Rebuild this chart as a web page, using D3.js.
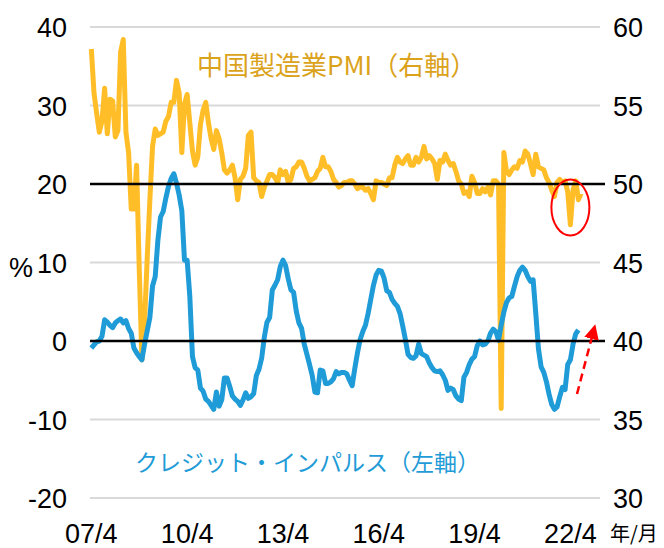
<!DOCTYPE html>
<html>
<head>
<meta charset="utf-8">
<script src="https://cdn.jsdelivr.net/npm/d3@7"></script>
<style>
  body { margin: 0; background: #fff; }
  svg { display: block; }
  .num { font-family: "Liberation Sans", Arial, sans-serif; font-size: 27px; fill: #000; }
  .jp { font-family: "Noto Sans CJK JP", sans-serif; }
</style>
</head>
<body>
<svg width="664" height="548"></svg>
<script>
// monthly data, first month 2007/4
var startYear = 2007, startMonth = 4;
var xTickLabels = ["07/4", "10/4", "13/4", "16/4", "19/4", "22/4"];
var leftTicks = [-20, -10, 0, 10, 20, 30, 40];
var rightTicks = [30, 35, 40, 45, 50, 55, 60];

// 中国製造業PMI (right axis), 2007/4 - 2022/8
var pmi = [
  58.6, 55.8, 54.5, 53.3, 54.0, 56.1, 53.2, 55.4, 55.3,
  53.0, 53.4, 58.4, 59.2, 53.3, 52.0, 48.4, 48.4, 51.2, 44.6, 38.8, 41.2,
  45.3, 49.0, 52.4, 53.5, 53.1, 53.2, 53.3, 54.0, 54.3, 55.2, 55.2, 56.6,
  55.8, 52.0, 55.1, 55.7, 53.9, 52.1, 51.2, 51.7, 53.8, 54.7, 55.2, 53.9,
  52.9, 52.2, 53.4, 52.9, 52.0, 50.9, 50.7, 50.9, 51.2, 50.4, 49.0, 50.3,
  50.5, 51.0, 53.1, 53.3, 50.4, 50.2, 50.1, 49.2, 49.8, 50.2, 50.6, 50.6,
  50.4, 50.1, 50.9, 50.6, 50.8, 50.1, 50.3, 51.0, 51.1, 51.4, 51.4, 51.0,
  50.5, 50.2, 50.3, 50.4, 50.8, 51.0, 51.7, 51.1, 51.1, 50.8, 50.3, 50.1,
  49.8, 49.9, 50.1, 50.1, 50.2, 50.2, 50.0, 49.7, 49.8, 49.8, 49.6, 49.7,
  49.4, 49.0, 50.2, 50.1, 50.1, 50.0, 49.9, 50.4, 50.4, 51.2, 51.7, 51.4,
  51.3, 51.6, 51.8, 51.2, 51.2, 51.7, 51.4, 51.7, 52.4, 51.6, 51.8, 51.6,
  51.3, 50.3, 51.5, 51.4, 51.9, 51.5, 51.2, 51.3, 50.8, 50.2, 50.0, 49.4,
  49.5, 49.2, 50.5, 50.1, 49.4, 49.4, 49.7, 49.5, 49.8, 49.3, 50.2, 50.2,
  50.0, 35.7, 52.0, 50.8, 50.6, 50.9, 51.1, 51.0, 51.5, 51.4, 52.1, 51.9,
  51.3, 50.6, 51.9, 51.1, 51.0, 50.9, 50.4, 50.1, 49.6, 49.2, 50.1, 50.3,
  50.1, 50.2, 49.5, 47.4, 49.6, 50.2, 49.0, 49.4
];

// クレジット・インパルス (left axis, %), 2007/4 - 2022/7
var credit = [
  -0.9, -0.5, -0.1, 0.0, 0.6, 2.7, 2.4, 2.0, 1.7,
  2.3, 2.6, 2.8, 2.3, 2.6, 1.6, 1.0, -0.9, -1.5, -2.0, -2.4, -0.4,
  1.3, 3.0, 7.0, 8.2, 12.8, 15.8, 16.5, 18.2, 19.7, 20.7, 21.3, 20.1,
  18.6, 16.6, 10.3, 10.3, 5.7, -2.0, -3.4, -3.7, -6.0, -6.4, -7.4, -7.7,
  -8.2, -8.7, -6.5, -8.3, -7.5, -4.7, -4.7, -5.8, -7.0, -7.4, -7.7, -8.2,
  -7.5, -6.6, -7.3, -7.1, -6.7, -4.4, -3.6, -2.2, 0.5, 2.4, 3.0, 6.5,
  7.1, 7.8, 9.5, 10.3, 9.6, 7.9, 6.5, 6.2, 3.8, 2.3, 1.6, -0.4,
  -1.7, -3.0, -4.4, -6.5, -6.6, -3.7, -3.8, -5.4, -5.4, -5.2, -4.8, -3.9,
  -4.2, -4.0, -4.0, -4.2, -5.0, -5.7, -3.5, -1.5, 0.2, 1.2, 2.0, 3.5,
  5.3, 7.1, 8.4, 9.0, 8.9, 8.0, 6.4, 6.2, 5.3, 4.8, 4.4, 3.5,
  1.9, 0.2, -1.7, -2.1, -2.2, -1.9, -0.4, -1.6, -1.8, -2.0, -2.8, -3.4,
  -3.8, -3.9, -3.8, -4.3, -5.0, -6.3, -6.0, -6.2, -7.0, -7.4, -7.6, -4.6,
  -4.0, -3.0, -2.3, -2.0, -0.6, 0.0, -0.5, -0.4, 0.0, 1.0, 1.5, 1.2,
  0.1, 2.0, 3.7, 4.9, 5.5, 5.7, 7.0, 8.2, 9.0, 9.4, 9.0, 8.2,
  7.6, 7.8, 3.5, -1.0, -3.3, -4.0, -5.2, -6.8, -8.1, -8.7, -8.4, -7.1,
  -5.9, -6.2, -3.0, -2.4, -0.4, 0.9, 1.4
];

var draw = function()
{
    var svg = d3.select("svg");
    var plotLeft = 90, plotRight = 601, plotTop = 27, plotBottom = 498;

    var x = d3.scaleLinear().domain([-0.5, 191.5]).range([plotLeft, plotRight]);
    var yL = d3.scaleLinear().domain([-20, 40]).range([plotBottom, plotTop]);
    var yR = d3.scaleLinear().domain([30, 60]).range([plotBottom, plotTop]);

    // grey gridlines
    svg.append("g").selectAll("line")
      .data(leftTicks.filter(function(d) { return d != 0 && d != 20; }))
      .enter().append("line")
      .attr("x1", plotLeft).attr("x2", plotRight - 1)
      .attr("y1", function(d) { return yL(d); })
      .attr("y2", function(d) { return yL(d); })
      .attr("stroke", "#d9d9d9").attr("stroke-width", 2);

    // left axis labels
    svg.append("g").selectAll("text")
      .data(leftTicks).enter().append("text")
      .attr("class", "num")
      .attr("x", 67).attr("y", function(d) { return yL(d) + 10; })
      .attr("text-anchor", "end")
      .text(function(d) { return d; });

    // right axis labels
    svg.append("g").selectAll("text")
      .data(rightTicks).enter().append("text")
      .attr("class", "num")
      .attr("x", 613).attr("y", function(d) { return yR(d) + 10; })
      .text(function(d) { return d; });

    // x labels every 3 years
    svg.append("g").selectAll("text")
      .data(xTickLabels).enter().append("text")
      .attr("class", "num")
      .attr("x", function(d, i) { return x(i * 36); })
      .attr("y", 543)
      .attr("text-anchor", "middle")
      .text(function(d) { return d; });

    svg.append("text").attr("class", "num").attr("x", 9).attr("y", 277).text("%");
    svg.append("text").attr("class", "jp").attr("x", 610).attr("y", 541)
      .style("font-size", "20px").text("年/月");

    var line = d3.line();

    // PMI line
    svg.append("path")
      .attr("d", line(pmi.map(function(v, i) { return [x(i), yR(v)]; })))
      .attr("fill", "none").attr("stroke", "#ffbe28")
      .attr("stroke-width", 5).attr("stroke-linejoin", "round");

    // credit impulse line
    svg.append("path")
      .attr("d", line(credit.map(function(v, i) { return [x(i), yL(v)]; })))
      .attr("fill", "none").attr("stroke", "#1f9bd7")
      .attr("stroke-width", 5).attr("stroke-linejoin", "round");

    // black reference lines at 0 and 20 (= PMI 50)
    svg.append("g").selectAll("line")
      .data([0, 20]).enter().append("line")
      .attr("x1", plotLeft).attr("x2", 605)
      .attr("y1", function(d) { return yL(d); })
      .attr("y2", function(d) { return yL(d); })
      .attr("stroke", "#000").attr("stroke-width", 2.5);

    // labels
    svg.append("text").attr("class", "jp").attr("x", 197).attr("y", 75)
      .style("font-size", "26px").attr("fill", "#dba21c").text("中国製造業PMI（右軸）");
    svg.append("text").attr("class", "jp").attr("x", 135).attr("y", 471)
      .style("font-size", "23px").attr("fill", "#1f9bd7").text("クレジット・インパルス（左軸）");

    // red circle on recent PMI dip
    svg.append("ellipse")
      .attr("cx", x(180)).attr("cy", yR(48.5))
      .attr("rx", 19).attr("ry", 28)
      .attr("fill", "none").attr("stroke", "#ff0000").attr("stroke-width", 2);

    // red dashed arrow
    svg.append("defs").append("marker")
      .attr("id", "ah").attr("viewBox", "0 0 10 10")
      .attr("refX", 4).attr("refY", 5)
      .attr("markerWidth", 6).attr("markerHeight", 6)
      .attr("orient", "auto")
      .append("path").attr("d", "M0,0 L10,5 L0,10 z").attr("fill", "#ff0000");
    svg.append("line")
      .attr("x1", 577).attr("y1", 394)
      .attr("x2", 593).attr("y2", 333)
      .attr("stroke", "#ff0000").attr("stroke-width", 2.5)
      .attr("stroke-dasharray", "8,5")
      .attr("marker-end", "url(#ah)");
}
draw();
</script>
</body>
</html>
